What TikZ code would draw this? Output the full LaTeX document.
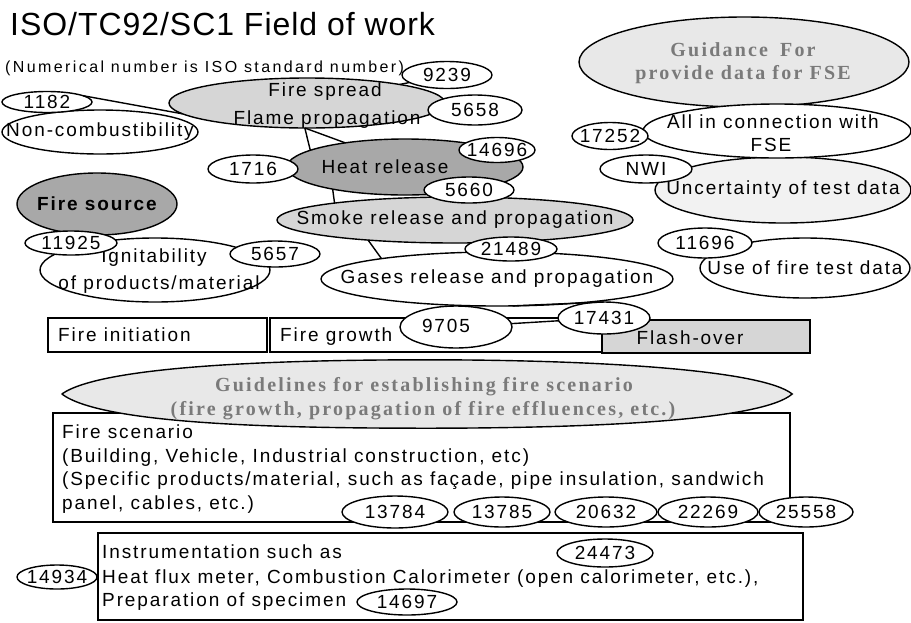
\documentclass[tikz,border=0pt]{standalone}
\usepackage{fontspec}
\usetikzlibrary{shapes.geometric}
\newfontfamily\sa{Liberation Sans}[LetterSpace=10]
\newfontfamily\subfnt{Liberation Sans}[LetterSpace=15]
\newfontfamily\tl{Liberation Sans}[LetterSpace=3]
\newfontfamily\sr{Liberation Serif}[LetterSpace=11]
\newcommand\nobx[1]{\makebox[0pt]{#1}}
\definecolor{lite}{gray}{0.84}
\definecolor{dark}{gray}{0.66}
\definecolor{pale}{gray}{0.91}
\definecolor{paler}{gray}{0.95}
\definecolor{gtext}{gray}{0.48}
\begin{document}
\begin{tikzpicture}[x=1pt,y=-1pt,
 ell/.style n args={2}{ellipse, draw=black, line width=1.4pt, fill=white, inner sep=0pt, outer sep=0pt, minimum width=#1pt, minimum height=#2pt, font=\sa\fontsize{19}{22}\selectfont},
 bx/.style n args={2}{rectangle, draw=black, line width=1.1pt, fill=white, inner sep=0pt, outer sep=0pt, anchor=north west, minimum width=#1pt, minimum height=#2pt},
 tx/.style={inner sep=0pt, font=\sa\fontsize{19}{22}\selectfont},
 tb/.style={tx, anchor=base west},
 gt/.style={inner sep=0pt, text=gtext, font=\sr\bfseries\fontsize{20}{24}\selectfont},
 ln/.style={line width=1.4pt},
]
\useasboundingbox (0,0) rectangle (911,622);
\fill[white] (0,0) rectangle (911,622);

% title
\node[inner sep=0pt, anchor=base west, font=\tl\fontsize{32}{36}\selectfont] (title) at (10,35) {ISO/TC92/SC1 Field of work};
\node[inner sep=0pt, anchor=west, font=\subfnt\fontsize{16}{18}\selectfont] (sub) at (5,68) {(Numerical number is ISO standard number)};

% left cluster
\node[ell={196}{44}] (noncomb) at (100,132) {\nobx{Non-combustibility}};
\node[ell={90}{21}] (n1182) at (47,102) {\nobx{1182}};
\node[ell={276}{50}, fill=lite] (firespread) at (307,103) {};
\node[tx] (fs1) at (325,92) {Fire spread};
\node[tx] (fs2) at (327,120) {Flame propagation};
\node[ell={90}{27}] (n9239) at (447,75) {\nobx{9239}};
\node[ell={94}{30}] (n5658) at (475,110) {\nobx{5658}};
\node[ell={236}{56}, fill=dark] (heat) at (405,167) {};
\node[tx] (heattxt) at (385,167) {Heat release};
\node[ell={90}{28}] (n1716) at (253,169) {\nobx{1716}};
\node[ell={76}{25}] (n14696) at (497,150) {\nobx{14696}};
\node[ell={356}{46}, fill=lite] (smoke) at (455,220) {\nobx{Smoke release and propagation}};
\node[ell={90}{26}] (n5660) at (469,190) {\nobx{5660}};
\node[ell={352}{54}] (gases) at (497,279) {\nobx{Gases release and propagation}};
\node[ell={92}{24}] (n21489) at (511,249) {\nobx{21489}};
\node[ell={160}{62}, fill=dark] (firesource) at (97,204) {\nobx{\bfseries Fire source}};
\node[ell={230}{64}] (ignit) at (155,270) {};
\node[tx] (ig1) at (154,258) {Ignitability};
\node[tx] (ig2) at (159,285) {of products/material};
\node[ell={92}{24}] (n11925) at (71,243) {\nobx{11925}};
\node[ell={90}{26}] (n5657) at (275,254) {\nobx{5657}};

% right cluster
\node[ell={330}{90}, fill=pale] (guidance) at (744,62) {};
\node[gt] (gd1) at (743,50) {Guidance\hspace{12pt}For};
\node[gt] (gd2) at (743,75) {provide data for FSE};
\node[ell={256}{66}, fill=paler] (uncert) at (783,190) {\nobx{Uncertainty of test data}};
\node[ell={268}{54}] (allin) at (777,131) {};
\node[tx] (al1) at (773,122) {All in connection with};
\node[tx] (al2) at (771,145) {FSE};
\node[ell={76}{27}] (n17252) at (610,136) {\nobx{17252}};
\node[ell={92}{28}] (nwi) at (646,169) {\nobx{NWI}};
\node[ell={210}{60}] (usefire) at (805,268) {\nobx{Use of fire test data}};
\node[ell={94}{30}] (n11696) at (705,243) {\nobx{11696}};

% stages
\node[bx={219}{34}] (finit) at (48,318) {};
\node[tx, anchor=west] (finittxt) at (58,335) {Fire initiation};
\node[bx={332}{34}] (fgrowth) at (270,318) {};
\node[tx, anchor=west] (fgtxt) at (280,337) {Fire growth};
\node[bx={208}{33}, fill=lite] (flash) at (602,320) {};
\node[tx] (flashtxt) at (690,338) {Flash-over};
\node[ell={112}{42}] (n9705) at (456,327) {};
\node[tx] (t9705) at (446,326) {9705};
\node[ell={92}{32}] (n17431) at (604,318) {\nobx{17431}};

% fire scenario
\node[bx={737}{109}] (scen) at (53,413) {};
\node[inner sep=0pt, minimum width=730pt, minimum height=68pt] (guide) at (427,394) {};
\draw[line width=1.4pt, fill=pale]
  (guide.west) .. controls ([xshift=40pt,yshift=-6pt]guide.north west) and ([xshift=-150pt]guide.north) .. (guide.north)
  .. controls ([xshift=170pt]guide.north) and ([xshift=-30pt,yshift=-10pt]guide.north east) .. (guide.east)
  .. controls ([xshift=-30pt,yshift=8pt]guide.south east) and ([xshift=170pt]guide.south) .. (guide.south)
  .. controls ([xshift=-150pt]guide.south) and ([xshift=40pt,yshift=4pt]guide.south west) .. (guide.west);
\node[gt] (gl1) at (424,387) {Guidelines for establishing fire scenario};
\node[gt] (gl2) at (423,411) {(fire growth, propagation of fire effluences, etc.)};
\node[tb] (sc1) at (62,438.5) {Fire scenario};
\node[tb] (sc2) at (62,462) {(Building, Vehicle, Industrial construction, etc)};
\node[tb] (sc3) at (62,485.5) {(Specific products/material, such as façade, pipe insulation, sandwich};
\node[tb] (sc4) at (62,509) {panel, cables, etc.)};
\node[ell={106}{32}] (n13784) at (395,512) {\nobx{13784}};
\node[ell={96}{30}] (n13785) at (502,512) {\nobx{13785}};
\node[ell={102}{30}] (n20632) at (606,512) {\nobx{20632}};
\node[ell={100}{30}] (n22269) at (708,512) {\nobx{22269}};
\node[ell={94}{30}] (n25558) at (806,512) {\nobx{25558}};

% instrumentation
\node[bx={705}{87}] (instr) at (98,533) {};
\node[tb] (in1) at (102,558.5) {Instrumentation such as};
\node[tb] (in2) at (102,583.5) {Heat flux meter, Combustion Calorimeter (open calorimeter, etc.),};
\node[tb] (in3) at (102,606.5) {Preparation of specimen};
\node[ell={80}{24}] (n14934) at (57,577) {\nobx{14934}};
\node[ell={96}{28}] (n24473) at (605,553) {\nobx{24473}};
\node[ell={100}{26}] (n14697) at (407,602) {\nobx{14697}};

% connectors
\draw[ln] (n1182.10) -- (firespread.185);
\draw[ln] (n9239) -- (firespread);
\draw[ln] (firespread.265) -- (heat.170);
\draw[ln] (firespread.265) -- (heat.158);
\draw[ln] (heat.197) -- (smoke.172);
\draw[ln] (smoke.193) -- (gases.170);
\draw[ln] (gases.-60) -- (n17431.north);
\draw[ln] (n9705) -- (n17431);
\end{tikzpicture}
\end{document}
